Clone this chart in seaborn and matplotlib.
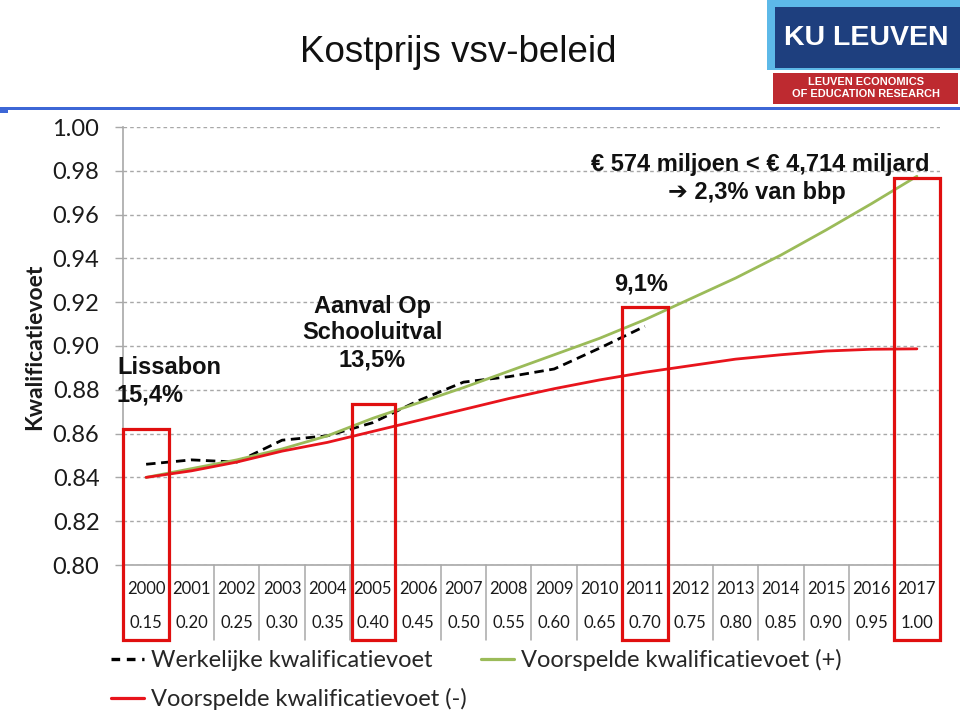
import matplotlib
matplotlib.use("Agg")
import matplotlib.pyplot as plt
from matplotlib.patches import Rectangle
import matplotlib.transforms as mtransforms
import seaborn as sns
import pandas as pd

# ---------------- data ----------------
years = list(range(2000, 2018))
weights = ["0.15", "0.20", "0.25", "0.30", "0.35", "0.40", "0.45", "0.50", "0.55",
           "0.60", "0.65", "0.70", "0.75", "0.80", "0.85", "0.90", "0.95", "1.00"]
years_actual = list(range(2000, 2012))
werkelijk = [0.846, 0.848, 0.847, 0.857, 0.859, 0.865, 0.875, 0.8835, 0.886, 0.8895, 0.899, 0.909]
voorspeld_plus = [0.840, 0.844, 0.848, 0.853, 0.859, 0.867, 0.874, 0.881, 0.8885, 0.896, 0.9035, 0.912,
                  0.9215, 0.931, 0.9415, 0.953, 0.965, 0.9775]
voorspeld_min = [0.840, 0.843, 0.847, 0.852, 0.856, 0.861, 0.866, 0.871, 0.876, 0.8805, 0.8845, 0.888,
                 0.891, 0.894, 0.896, 0.8977, 0.8985, 0.8987]
yticks = [0.80, 0.82, 0.84, 0.86, 0.88, 0.90, 0.92, 0.94, 0.96, 0.98, 1.00]
highlight_years = [2000, 2005, 2011, 2017]
highlight_tops = [0.862, 0.8735, 0.9178, 0.9767]

LBL_W = "Werkelijke kwalificatievoet"
LBL_P = "Voorspelde kwalificatievoet (+)"
LBL_M = "Voorspelde kwalificatievoet (-)"

df = pd.concat([
    pd.DataFrame({"year": years_actual, "value": werkelijk, "series": LBL_W}),
    pd.DataFrame({"year": years, "value": voorspeld_plus, "series": LBL_P}),
    pd.DataFrame({"year": years, "value": voorspeld_min, "series": LBL_M}),
], ignore_index=True)

# ---------------- style ----------------
sns.set_theme(style="white")
plt.rcParams["font.family"] = ["Lato", "DejaVu Sans"]

W, H = 960, 717
fig = plt.figure(figsize=(W / 100, H / 100), dpi=100)
fig.patch.set_facecolor("white")

def fx(x):
    return x / W

def fy(y):
    return 1 - y / H

ax = fig.add_axes([fx(123), fy(565), (940 - 123) / W, (565 - 127) / H])

palette = {LBL_W: "#000000", LBL_P: "#9BBB59", LBL_M: "#E8141C"}
dashes = {LBL_W: (3.4, 2.0), LBL_P: "", LBL_M: ""}
sns.lineplot(data=df, x="year", y="value", hue="series", style="series",
             palette=palette, dashes=dashes, ax=ax, legend=True, linewidth=2,
             hue_order=[LBL_W, LBL_P, LBL_M], style_order=[LBL_W, LBL_P, LBL_M])

handles, labels = ax.get_legend_handles_labels()
hmap = dict(zip(labels, handles))
ax.get_legend().remove()

for line in ax.get_lines():
    lab = line.get_label()
    if lab == LBL_W:
        line.set_linewidth(2.4); line.set_zorder(5)
    elif lab == LBL_P:
        line.set_linewidth(1.9); line.set_zorder(3)
    elif lab == LBL_M:
        line.set_linewidth(2.1); line.set_zorder(4)
for lab, h in hmap.items():
    h.set_linewidth(2.4 if lab == LBL_W else 2.3)
    if lab == LBL_W:
        h.set_dashes((2.6, 2.0))

ax.set_xlim(1999.49, 2017.51)
ax.set_ylim(0.80, 1.00)
ax.set_yticks(yticks)
ax.set_yticklabels([f"{v:.2f}" for v in yticks], fontsize=17, color="#1a1a1a")
ax.set_xticks([])
ax.set_xlabel("")
ax.set_ylabel("")
ax.grid(axis="y", linestyle=(0, (2.6, 2.2)), color="#A8A8A8", linewidth=1.0)
ax.grid(axis="x", visible=False)
ax.tick_params(axis="y", length=6, width=1, color="#A8A8A8", direction="out", pad=11, left=True)
for s in ["top", "right"]:
    ax.spines[s].set_visible(False)
for s in ["left", "bottom"]:
    ax.spines[s].set_color("#A8A8A8")
    ax.spines[s].set_linewidth(1.2)

# ---------------- table under the axis ----------------
trans = mtransforms.blended_transform_factory(ax.transData, ax.transAxes)
row1 = (565 - 589) / 438
row2 = (565 - 623) / 438
tab_bottom = (565 - 640) / 438
for yr, wt in zip(years, weights):
    ax.text(yr, row1, str(yr), transform=trans, ha="center", va="center",
            fontsize=12, color="#1a1a1a", clip_on=False)
    ax.text(yr, row2, wt, transform=trans, ha="center", va="center",
            fontsize=12, color="#1a1a1a", clip_on=False)
for b in [y + 0.5 for y in years[:-1]] + [1999.5, 2017.5]:
    ax.plot([b, b], [0, tab_bottom], transform=trans, color="#A8A8A8", lw=1.1,
            clip_on=False, zorder=1)

# ---------------- highlight rectangles ----------------
for yr, top in zip(highlight_years, highlight_tops):
    x0 = yr - 0.5 if yr != 2005 else yr - 0.45
    w = 1.0 if yr != 2005 else 0.95
    bottom = 0.80 - (640 - 565) / 2190
    ax.add_patch(Rectangle((x0, bottom), w, top - bottom, fill=False,
                           edgecolor="#E00F0F", linewidth=2.3, clip_on=False, zorder=6))

# ---------------- annotations ----------------
bold = dict(family=["Liberation Sans", "DejaVu Sans"], fontweight="bold", fontsize=17, color="#111111")
fig.text(fx(117), fy(381), "Lissabon\n15,4%", ha="left", va="center", linespacing=1.25, **bold)
fig.text(fx(372), fy(333), "Aanval Op\nSchooluitval\n13,5%", ha="center", va="center",
         multialignment="center", linespacing=1.2, **bold)
fig.text(fx(641), fy(284), "9,1%", ha="center", va="center", **bold)
fig.text(fx(760), fy(164), "€ 574 miljoen < € 4,714 miljard", ha="center", va="center", **bold)
fig.text(fx(757), fy(193), "➔ 2,3% van bbp", ha="center", va="center", **bold)

# y label
fig.text(fx(35), fy(347), "Kwalificatievoet", rotation=90, ha="center", va="center",
         fontsize=16.5, fontweight="bold", color="#1a1a1a")

# title
fig.text(fx(458), fy(53), "Kostprijs vsv-beleid", ha="center", va="center",
         family=["Liberation Sans", "DejaVu Sans"], fontsize=26.5, color="#111111")

# top blue rule
fig.add_artist(Rectangle((0, fy(110)), 1, 3 / H, transform=fig.transFigure,
                         facecolor="#3D67D6", edgecolor="none"))
fig.add_artist(Rectangle((0, fy(113)), fx(8), 6 / H, transform=fig.transFigure,
                         facecolor="#3D67D6", edgecolor="none"))

# logo
fig.add_artist(Rectangle((fx(767), fy(70)), fx(960 - 767), 70 / H, transform=fig.transFigure,
                         facecolor="#5DB9E8", edgecolor="none"))
fig.add_artist(Rectangle((fx(775), fy(68)), fx(960 - 775), 61 / H, transform=fig.transFigure,
                         facecolor="#1E3F7E", edgecolor="none"))
fig.add_artist(Rectangle((fx(773), fy(104)), fx(958 - 773), 31 / H, transform=fig.transFigure,
                         facecolor="#BE2A30", edgecolor="none"))
fig.text(fx(866), fy(38), "KU LEUVEN", ha="center", va="center", color="white",
         family=["Liberation Sans", "DejaVu Sans"], fontweight="heavy", fontsize=20.5)
fig.text(fx(866), fy(88), "LEUVEN ECONOMICS\nOF EDUCATION RESEARCH", ha="center", va="center",
         color="white", family=["Liberation Sans", "DejaVu Sans"], fontweight="bold",
         fontsize=7.9, linespacing=1.15)

# ---------------- legend ----------------
leg_handles = [hmap[LBL_W], hmap[LBL_M], hmap[LBL_P]]
leg_labels = [LBL_W, LBL_M, LBL_P]
fig.legend(leg_handles, leg_labels, loc="upper left", bbox_to_anchor=(fx(111), fy(649)),
           ncol=2, frameon=False, fontsize=17, handlelength=1.4, handletextpad=0.3,
           columnspacing=0.6, labelspacing=0.72, borderaxespad=0, borderpad=0)

fig.savefig("out.png", dpi=100, facecolor="white")
